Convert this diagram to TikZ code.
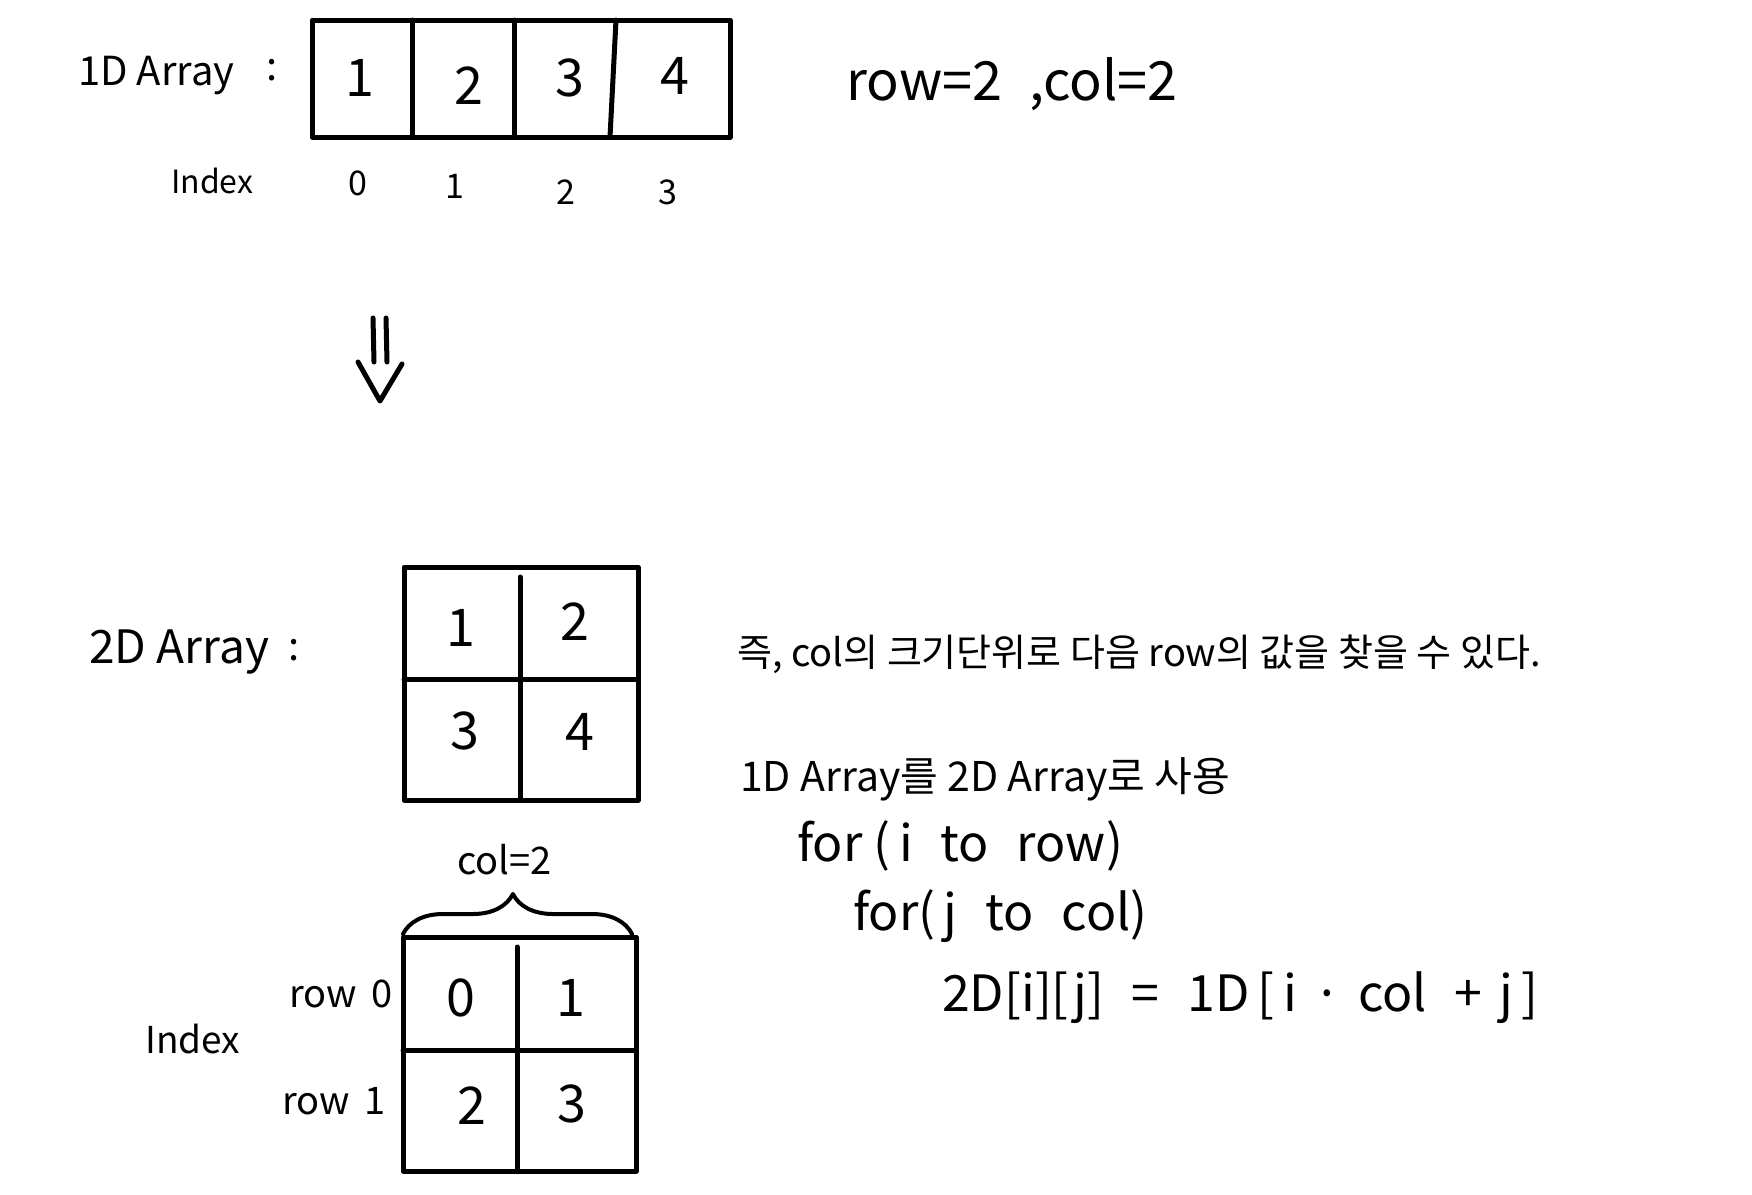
\documentclass[tikz,border=0pt]{standalone}
\usepackage{fontspec}
\setmainfont{Noto Sans CJK KR}
\usetikzlibrary{decorations.pathreplacing}
\begin{document}
\begin{tikzpicture}[x=1pt,y=-1pt,
  pen/.style={line width=5pt, line cap=round, line join=round},
  txt/.style={inner sep=0pt, anchor=west},
  hlabel/.style={txt, font=\fontsize{40}{48}\selectfont},
  small/.style={txt, font=\fontsize{32}{38}\selectfont},
  celltxt/.style={inner sep=0pt, font=\fontsize{52}{62}\selectfont},
  idx/.style={inner sep=0pt, font=\fontsize{34}{40}\selectfont},
  note/.style={txt, font=\fontsize{38}{46}\selectfont},
  code/.style={txt, font=\fontsize{50}{60}\selectfont}]
\useasboundingbox[fill=white] (0,0) rectangle (1752,1194);

% ---------- 1D array ----------
\node[hlabel] (l1d) at (78,76) {1D Array};
\node[hlabel] (c1d) at (266,70) {:};
\draw[pen] (312,20) rectangle (730,137);
\draw[pen] (412,20) -- (412,137);
\draw[pen] (514,20) -- (514,137);
\draw[pen] (616,20) -- (610,137);
\node[celltxt] (a1) at (360,78) {1};
\node[celltxt] (a2) at (469,86) {2};
\node[celltxt] (a3) at (570,78) {3};
\node[celltxt] (a4) at (675,76) {4};
\node[small] (ix1) at (171,181) {Index};
\node[idx] (i0) at (358,183) {0};
\node[idx] (i1) at (455,186) {1};
\node[idx] (i2) at (566,192) {2};
\node[idx] (i3) at (668,192) {3};

\node[txt, font=\fontsize{54}{64}\selectfont] (rc) at (846,84) {row=2\,\,\,,col=2};

% ---------- arrow ----------
\draw[pen] (373,318) -- (374,362);
\draw[pen] (386,318) -- (387,362);
\draw[pen] (358,362) -- (380,401) -- (402,364);

% ---------- 2D array ----------
\node[txt, font=\fontsize{46}{54}\selectfont] (l2d) at (89,652) {2D Array};
\node[hlabel] (c2d) at (288,650) {:};
\draw[pen] (404,567) rectangle (638,800);
\draw[pen] (520,577) -- (520,800);
\draw[pen] (404,679) -- (638,679);
\node[celltxt] (b1) at (461,628) {1};
\node[celltxt] (b2) at (575,622) {2};
\node[celltxt] (b3) at (465,731) {3};
\node[celltxt] (b4) at (580,732) {4};

% ---------- index grid ----------
\draw[pen] (403,937) rectangle (636,1171);
\draw[pen] (517,947) -- (517,1171);
\draw[pen] (403,1050) -- (636,1050);
\node[celltxt] (d0) at (461,998) {0};
\node[celltxt] (d1) at (571,998) {1};
\node[celltxt] (d2) at (472,1106) {2};
\node[celltxt] (d3) at (572,1104) {3};
\node[txt, font=\fontsize{38}{46}\selectfont] (r0) at (289,994) {row\, 0};
\node[txt, font=\fontsize{38}{46}\selectfont] (r1) at (282,1101) {row\, 1};
\node[txt, font=\fontsize{37}{44}\selectfont] (ix2) at (145,1039) {Index};
\coordinate (bl) at (403,934);
\coordinate (br) at (632,934);
\draw[pen, line width=4pt, decorate, decoration={brace, amplitude=40pt, aspect=0.48}] (bl) -- (br);
\node[txt, font=\fontsize{38}{46}\selectfont] (cl) at (457,860) {col=2};

% ---------- notes ----------
\node[note] (n1) at (737,654) {즉, col의 크기단위로 다음 row의 값을 찾을 수 있다.};
\node[txt, font=\fontsize{41}{50}\selectfont] (n2) at (740,779) {1D Array를 2D Array로 사용};
\node[code] (n3) at (797,846) {for (\,i\,\, to\,\, row)};
\node[code] (n4) at (853,916) {for(\,j\,\, to\,\, col)};
\node[code] (n5) at (942,998) {2D[i][j]\,\, =\,\, 1D\,[\,i\,\,·\,\,col\,\, +\,\,j\,]};
\end{tikzpicture}
\end{document}
